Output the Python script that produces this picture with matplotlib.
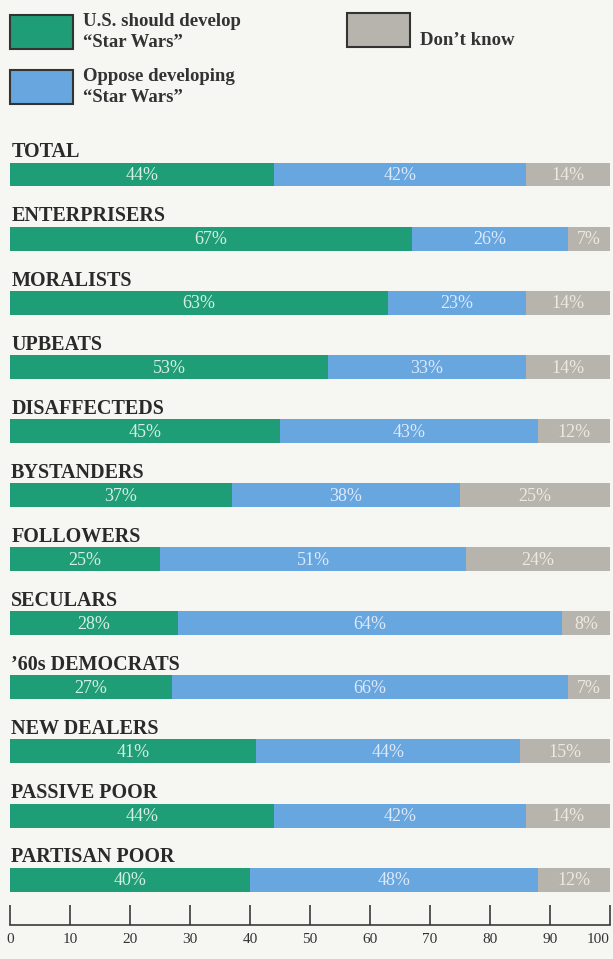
import matplotlib
matplotlib.use("Agg")
import matplotlib.pyplot as plt
from matplotlib.patches import Rectangle

# survey results, percent of each group
groups = ["TOTAL", "ENTERPRISERS", "MORALISTS", "UPBEATS", "DISAFFECTEDS",
          "BYSTANDERS", "FOLLOWERS", "SECULARS", "\u201960s DEMOCRATS",
          "NEW DEALERS", "PASSIVE POOR", "PARTISAN POOR"]
develop = [44, 67, 63, 53, 45, 37, 25, 28, 27, 41, 44, 40]
oppose = [42, 26, 23, 33, 43, 38, 51, 64, 66, 44, 42, 48]
dont_know = [14, 7, 14, 14, 12, 25, 24, 8, 7, 15, 14, 12]
ticks = [0, 10, 20, 30, 40, 50, 60, 70, 80, 90, 100]

green = "#1f9d76"
blue = "#68a6e0"
grey = "#b6b4ac"
bg = "#f6f6f3"
serif = ["Liberation Serif", "DejaVu Serif"]

W, H = 613, 959
fig = plt.figure(figsize=(W / 100, H / 100), dpi=100, facecolor=bg)

def fx(x):
    return x / W

def fy(y):
    return 1 - y / H

# main axes: x=0 at 10px, x=100 at 610px; baseline at 925px
ax = fig.add_axes([fx(10), fy(925), 600 / W, (925 - 140) / H])
ax.set_facecolor(bg)

row_h = 0.374
y = list(range(len(groups)))
left2 = [a for a in develop]
left3 = [a + b for a, b in zip(develop, oppose)]
ax.barh(y, develop, height=row_h, color=green, linewidth=0)
ax.barh(y, oppose, left=left2, height=row_h, color=blue, linewidth=0)
ax.barh(y, dont_know, left=left3, height=row_h, color=grey, linewidth=0)

for i, name in enumerate(groups):
    ax.text(0.2, i - row_h / 2 - 0.08, name, ha="left", va="baseline",
            fontsize=14.5, fontweight="bold", family=serif, color="#2a2a2a")
    segs = [(0, develop[i], "#d6efe4"), (left2[i], oppose[i], "#dbe9f8"),
            (left3[i], dont_know[i], "#ebe9e2")]
    for start, val, tc in segs:
        ax.text(start + val / 2, i + 0.02, f"{val}%", ha="center", va="center",
                fontsize=13, family=serif, color=tc)

ax.set_xlim(0, 100)
ax.set_ylim(11.708, -0.538)
ax.set_yticks([])
ax.set_xticks(ticks)
ax.set_xticklabels([str(t) for t in ticks], family=serif, fontsize=11,
                   color="#333333")
ax.get_xticklabels()[-1].set_horizontalalignment("right")
ax.tick_params(axis="x", direction="in", length=14.4, width=1.2,
               color="#3a3a3a", pad=6)
for s in ["top", "left", "right"]:
    ax.spines[s].set_visible(False)
ax.spines["bottom"].set_color("#3a3a3a")
ax.spines["bottom"].set_linewidth(1.2)

# legend boxes
legend_items = [
    (10, 15, green, 83, ["U.S. should develop", "\u201cStar Wars\u201d"]),
    (10, 70, blue, 83, ["Oppose developing", "\u201cStar Wars\u201d"]),
    (347, 13, grey, 420, [None, "Don\u2019t know"]),
]
for bx, by, col, tx, lines in legend_items:
    fig.add_artist(Rectangle((fx(bx), fy(by + 34)), 63 / W, 34 / H,
                             transform=fig.transFigure, facecolor=col,
                             edgecolor="#333333", linewidth=1.5))
    for k, line in enumerate(lines):
        if line is None:
            continue
        fig.text(fx(tx), fy(by + 11 + k * 21), line, ha="left", va="baseline",
                 fontsize=13.5, fontweight="bold", family=serif, color="#333333")

fig.savefig("out.png", dpi=100, facecolor=bg)
